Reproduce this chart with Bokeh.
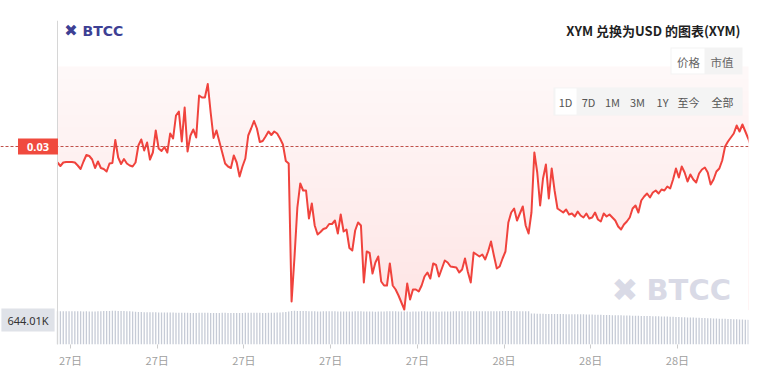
import numpy as np
import pandas as pd
from bokeh.plotting import figure
from bokeh.models import (Range1d, SingleIntervalTicker, DatetimeTickFormatter,
                          Span, Label, BoxAnnotation)
from bokeh.embed import file_html
from bokeh.resources import INLINE

# ---------------- data ----------------
start_time = "2025-06-27 08:33"
step_minutes = 6

price = [
    0.02966, 0.02959, 0.02966, 0.02967, 0.02967, 0.02967, 0.02966, 0.02960, 0.02953, 0.02968,
    0.02981, 0.02979, 0.02972, 0.02955, 0.02968, 0.02955, 0.02953, 0.02948, 0.02964, 0.02965,
    0.03011, 0.02976, 0.02963, 0.02973, 0.02964, 0.02960, 0.02958, 0.02966, 0.03000, 0.03012,
    0.02990, 0.03006, 0.02972, 0.02986, 0.03030, 0.02994, 0.02989, 0.02997, 0.02986, 0.03024,
    0.03014, 0.03060, 0.03068, 0.03008, 0.03076, 0.02988, 0.03020, 0.03032, 0.03016, 0.03100,
    0.03096, 0.03096, 0.03123, 0.03066, 0.03015, 0.03030, 0.03008, 0.02986, 0.02964, 0.02958,
    0.02955, 0.02980, 0.02966, 0.02938, 0.02958, 0.02974, 0.03020, 0.03034, 0.03049, 0.03034,
    0.03007, 0.03009, 0.03018, 0.03028, 0.03021, 0.03028, 0.03024, 0.03014, 0.03002, 0.02969,
    0.02964, 0.02688, 0.02776, 0.02876, 0.02924, 0.02910, 0.02910, 0.02854, 0.02884, 0.02840,
    0.02822, 0.02827, 0.02833, 0.02835, 0.02843, 0.02843, 0.02850, 0.02824, 0.02862, 0.02828,
    0.02832, 0.02795, 0.02790, 0.02830, 0.02846, 0.02840, 0.02726, 0.02788, 0.02785, 0.02744,
    0.02766, 0.02778, 0.02728, 0.02720, 0.02720, 0.02764, 0.02720, 0.02712, 0.02700, 0.02686,
    0.02672, 0.02724, 0.02692, 0.02712, 0.02712, 0.02708, 0.02720, 0.02738, 0.02746, 0.02734,
    0.02764, 0.02761, 0.02738, 0.02754, 0.02770, 0.02766, 0.02758, 0.02757, 0.02756, 0.02746,
    0.02752, 0.02774, 0.02747, 0.02726, 0.02786, 0.02782, 0.02778, 0.02782, 0.02772, 0.02788,
    0.02808, 0.02780, 0.02754, 0.02758, 0.02774, 0.02788, 0.02846, 0.02866, 0.02874, 0.02850,
    0.02864, 0.02878, 0.02840, 0.02824, 0.02866, 0.02986, 0.02946, 0.02880, 0.02934, 0.02962,
    0.02894, 0.02954, 0.02910, 0.02874, 0.02870, 0.02866, 0.02872, 0.02862, 0.02864, 0.02858,
    0.02868, 0.02860, 0.02856, 0.02864, 0.02854, 0.02856, 0.02866, 0.02852, 0.02848, 0.02864,
    0.02858, 0.02862, 0.02856, 0.02850, 0.02838, 0.02832, 0.02842, 0.02848, 0.02856, 0.02874,
    0.02880, 0.02866, 0.02890, 0.02898, 0.02904, 0.02896, 0.02906, 0.02910, 0.02904, 0.02912,
    0.02910, 0.02918, 0.02914, 0.02932, 0.02954, 0.02936, 0.02958, 0.02946, 0.02928, 0.02942,
    0.02932, 0.02926, 0.02944, 0.02952, 0.02956, 0.02946, 0.02922, 0.02932, 0.02948, 0.02954,
    0.02970, 0.02998, 0.03008, 0.03016, 0.03024, 0.03040, 0.03028, 0.03042, 0.03028, 0.03014,
    0.02998,
]

volume_k = [
    872, 875, 874, 876, 873, 871, 874, 876, 872, 870, 871, 868, 866, 869, 872, 875, 879, 882, 884, 885,
    886, 884, 883, 880, 877, 872, 866, 860, 855, 852, 850, 848, 847, 845, 846, 844, 842, 843, 841, 840,
    838, 836, 835, 833, 834, 832, 830, 829, 831, 833, 835, 834, 832, 830, 828, 829, 831, 833, 832, 830,
    828, 826, 827, 829, 831, 833, 835, 837, 836, 834, 832, 831, 830, 832, 834, 836, 838, 842, 848, 856,
    865, 880, 885, 884, 882, 880, 878, 876, 874, 872, 870, 869, 871, 873, 875, 874, 872, 870, 868, 866,
    865, 867, 869, 871, 873, 872, 870, 868, 866, 865, 864, 866, 868, 870, 872, 874, 873, 871, 869, 867,
    866, 865, 864, 866, 868, 870, 872, 871, 869, 867, 866, 865, 864, 866, 868, 869, 870, 871, 872, 873,
    874, 875, 876, 877, 876, 875, 874, 873, 872, 873, 874, 875, 876, 877, 878, 879, 880, 879, 878, 877,
    876, 875, 874, 872, 815, 812, 810, 808, 806, 805, 804, 803, 802, 801, 800, 799, 798, 797, 796, 795,
    794, 793, 792, 790, 788, 786, 784, 782, 780, 778, 776, 774, 772, 770, 768, 766, 764, 762, 760, 758,
    756, 754, 752, 750, 748, 746, 744, 742, 740, 738, 736, 734, 731, 728, 725, 722, 719, 716, 713, 710,
    707, 704, 701, 698, 695, 692, 689, 686, 683, 680, 677, 674, 671, 668, 665, 662, 659, 656, 653, 650,
    644.01,
]

title_text = "XYM 兑换为USD 的图表(XYM)"
brand = "BTCC"
tabs_kind = ["价格", "市值"]
tabs_period = ["1D", "7D", "1M", "3M", "1Y", "至今", "全部"]
tick_day_format = "%d日"

# ---------------- figure ----------------
t = pd.date_range(start_time, periods=len(price), freq=f"{step_minutes}min")
step = pd.Timedelta(minutes=step_minutes)

CJK = "Noto Sans CJK SC"
y_lo, y_hi = 0.02602, 0.0325
pane_bottom, pane_top = 0.02670, 0.03158

# frame spans the full width; the price pane starts at the first sample
p = figure(width=764, height=378, x_axis_type="datetime",
           x_range=Range1d(t[0] - step * 19.72, t[-1] - step * 0.9),
           y_range=Range1d(y_lo, y_hi), title=None,
           output_backend="svg", toolbar_location=None,
           min_border_left=0, min_border_right=16, min_border_top=20, min_border_bottom=34)
p.outline_line_color = None
p.grid.visible = False
p.yaxis.visible = False
p.extra_y_ranges = {"vol": Range1d(0, 8518)}

x_first, x_last = t[0], t[-1]

# gradient area above the line: stacked translucent layers
n_layers = 20
edges = np.linspace(pane_bottom, pane_top, n_layers + 1)[1:]
p.quad(left=x_first, right=x_last, bottom=pane_bottom, top=pane_top,
       fill_color="#f04848", fill_alpha=0.035, line_color=None)
p.quad(left=[x_first] * n_layers, right=[x_last] * n_layers, bottom=[pane_bottom] * n_layers, top=edges,
       fill_color="#f04848", fill_alpha=0.0085, line_color=None)
# white below the price line
p.varea(x=t, y1=y_lo, y2=price, fill_color="white")

# volume bars
p.vbar(x=t, top=volume_k, bottom=0, width=step * 0.45, y_range_name="vol",
       fill_color="#c6cbd6", line_color=None)

# price line
p.line(t, price, line_color="#f0433d", line_width=2, line_join="round")

# left axis line and last price dashed line
p.add_layout(Span(location=x_first.value / 1e6, dimension="height", line_color="#d6d6d6", line_width=1))
p.add_layout(Span(location=price[-1], dimension="width", line_color="#c0504a",
                  line_width=1, line_dash="3 2"))

# x axis
xa = p.xaxis[0]
xa.ticker = SingleIntervalTicker(interval=3 * 3600 * 1000, num_minor_ticks=0)
xa.formatter = DatetimeTickFormatter(minutes=tick_day_format, hourmin=tick_day_format,
                                     hours=tick_day_format, days=tick_day_format)
xa.axis_line_color = None
xa.major_tick_line_color = "#cccccc"
xa.major_tick_out = 4
xa.major_tick_in = 0
xa.minor_tick_line_color = None
xa.major_label_text_color = "#a0a0a0"
xa.major_label_text_font = CJK
xa.major_label_text_font_size = "11px"
xa.major_label_standoff = 3

# button groups (screen units relative to frame)
def box(l, r, b, tp, color, alpha=1.0):
    p.add_layout(BoxAnnotation(left=l, right=r, bottom=b, top=tp,
                               left_units="screen", right_units="screen",
                               bottom_units="screen", top_units="screen",
                               fill_color=color, fill_alpha=alpha, line_color=None))

box(670, 742, 270, 297, "#f3f3f3")
box(671, 704, 271, 296, "#ffffff")
box(553, 742, 229, 257, "#f3f3f3", 0.92)
box(555, 576, 230, 256, "#ffffff")

def lab(text, x, y, size, color, bold=False, align="left", font=CJK, **kw):
    p.add_layout(Label(x=x, y=y, x_units="screen", y_units="screen", text=text,
                       text_font=font, text_font_size=f"{size}px", text_color=color,
                       text_font_style="bold" if bold else "normal",
                       text_align=align, text_baseline="middle", **kw))

lab(title_text, 740, 314, 13, "#1f1f1f", bold=True, align="right")
lab("✖", 70.5, 314, 16, "#3d4094", align="center", font="DejaVu Sans")
lab(brand, 82, 314, 14, "#3d4094", bold=True, font="DejaVu Sans")
lab("✖", 624.5, 55, 32, "#d9dae6", align="center", font="DejaVu Sans")
lab(brand, 646, 55, 29, "#d9dae6", bold=True, font="DejaVu Sans")

for txt, x in zip(tabs_kind, [688, 721.5]):
    lab(txt, x, 283, 11.5, "#666666", align="center")
for txt, x in zip(tabs_period, [565, 588, 612, 637, 662, 688, 722]):
    lab(txt, x, 243, 11, "#555555", align="center")

# last price tag
p.add_layout(Label(x=37.5, y=price[-1], x_units="screen", y_units="data",
                   text=f"{price[-1]:.2f}", text_font="Noto Sans", text_font_size="11px",
                   text_font_style="bold", text_color="white", text_align="center",
                   text_baseline="middle", background_fill_color="#f04a3e",
                   padding=dict(left=9, right=9, top=4, bottom=4)))
# last volume tag
p.add_layout(Label(x=27.5, y=volume_k[-1], x_units="screen", y_units="data", y_range_name="vol",
                   text=f"{volume_k[-1]:.2f}K", text_font="Noto Sans", text_font_size="11px",
                   text_color="#333333", text_align="center", text_baseline="middle",
                   background_fill_color="#dfe2e8",
                   padding=dict(left=6, right=6, top=4, bottom=4)))

open("out.html", "w").write(file_html(p, INLINE))
